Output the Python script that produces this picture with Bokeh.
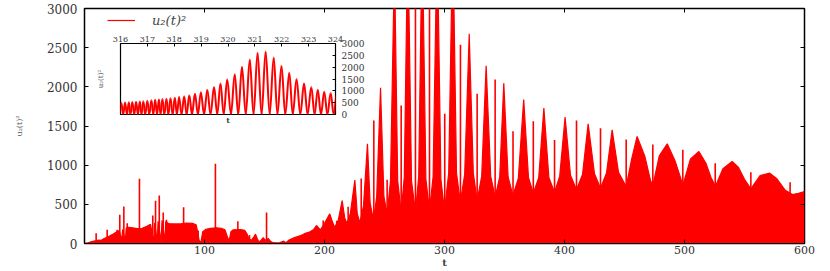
from bokeh.plotting import figure
from bokeh.models import LinearAxis, FixedTicker, Range1d, Legend, LegendItem
from bokeh.embed import file_html
from bokeh.resources import INLINE

# ---------------- main series: upper envelope of the dense signal u2(t)^2 ----------------
env_t = [0, 3, 6, 9, 12, 14, 16, 20, 24, 27, 29, 31, 31.8, 34, 34.8, 37, 40, 44, 48, 52, 55,
         57.8, 58.5, 60.6, 61.3, 63.8, 64.6, 67, 67.7, 70, 75, 80, 85, 90, 93, 94.3, 95.5, 97,
         98.5, 101, 105, 110, 114, 117, 119, 120.5, 122, 124, 130, 133.5, 135.5, 137, 139, 141,
         142.5, 144, 145.5, 147, 149, 150.5, 153, 155, 157, 162, 166, 168, 170, 175, 180, 184,
         188, 191, 193.3, 196.5, 199, 201.5, 204.4, 206.5, 208.5, 211.5, 214.7, 216.8, 218.7,
         221.5, 225.3, 227.3, 229.5, 232.5, 235.8, 238, 240.8, 243.5, 246.7, 249.5, 252.2, 255,
         258.3, 261, 263.9, 266.5, 269.4, 272.5, 275.8, 278.5, 281.4, 284.5, 287.5, 290.5, 293.9,
         297, 300, 303.5, 306.9, 310, 313.2, 316.8, 320.6, 324, 327.2, 331, 334.7, 338.5, 342.2,
         346, 349.4, 353, 357, 361.5, 366, 370, 374, 378.5, 382.8, 387, 391.7, 396, 400.5, 405,
         410, 415, 419.7, 425, 430, 435, 439.7, 445, 451.4, 456, 460.5, 467, 471.7, 473.6, 479,
         485.6, 492, 496.5, 498.6, 505, 512, 518, 522, 525.8, 532, 539.7, 545, 550, 555.3, 563,
         571, 577, 584, 590, 595, 600]
env_u = [0, 10, 25, 35, 45, 40, 60, 90, 120, 150, 165, 40, 180, 30, 200, 205, 200, 190, 195, 220, 245,
         20, 265, 20, 285, 20, 295, 30, 280, 255, 250, 250, 262, 258, 240, 150, 40, 15,
         150, 180, 195, 200, 195, 175, 90, 30, 150, 175, 178, 168, 120, 60, 40, 80,
         120, 60, 20, 40, 75, 40, 65, 30, 10, 5, 30, 10, 40, 75, 100, 130,
         150, 180, 230, 175, 230, 300, 379, 280, 205, 300, 549, 330, 255,
         380, 810, 380, 265, 480, 1272, 520, 300, 600, 1988, 600, 380, 800,
         3600, 800, 400, 850, 4000, 800, 410, 850, 4000, 820, 420, 850, 4000,
         820, 421, 900, 4000, 900, 527, 880, 2677, 900, 549, 860, 2268, 860, 591,
         850, 2047, 850, 613, 830, 1838, 840, 642, 840, 1728, 840, 655, 860, 1613, 870,
         685, 880, 1528, 890, 706, 900, 1451, 910, 727, 1080, 1366, 1110, 804, 740, 1120,
         1273, 1060, 850, 740, 1080, 1174, 1020, 846, 732, 955, 1047, 970, 820, 698, 868,
         898, 826, 680, 625, 640, 664]

# isolated narrow spikes
spike_t = [9.7, 18.9, 27.2, 29.4, 32.8, 35.6, 45.8, 56.9, 59.2, 62.3, 65.6, 68.3, 82.6, 94.7,
           109.1, 127.8, 137.5, 151.7, 198.9, 210.2, 219.7, 230.6, 241.1, 252.2, 263.9, 275.8,
           287.5, 300.2, 313.3, 327.2, 342.2, 357.1, 374.0, 391.7, 410.0, 430.0, 451.4, 473.6,
           498.6, 525.6, 555.3, 588.0]
spike_u = [130, 175, 175, 366, 472, 260, 826, 357, 545, 613, 395, 302, 464, 166,
           1017, 285, 110, 395, 294, 290, 470, 830, 1570, 813, 1762, 4000,
           4000, 1656, 2536, 1911, 2094, 1434, 1562, 1320, 1570, 1472, 1328, 1264,
           1196, 1025, 910, 783]

x_ticks = [100, 200, 300, 400, 500, 600]
y_ticks = [0, 500, 1000, 1500, 2000, 2500, 3000]

# ---------------- inset series: zoom on 316 <= t <= 324 ----------------
in_peak_t = [316.03, 316.17, 316.31, 316.44, 316.58, 316.72, 316.85, 317.00, 317.15, 317.29,
             317.43, 317.56, 317.71, 317.86, 318.02, 318.18, 318.37, 318.56, 318.77, 318.99,
             319.23, 319.48, 319.72, 319.97, 320.25, 320.52, 320.81, 321.10, 321.40, 321.70,
             321.99, 322.28, 322.55, 322.83, 323.10, 323.34, 323.58, 323.82, 324.05]
in_peak_u = [500, 510, 520, 530, 540, 550, 565, 580, 600, 620,
             638, 652, 667, 685, 710, 737, 770, 810, 880, 940,
             1050, 1160, 1310, 1476, 1702, 2014, 2326, 2610, 2666, 2411,
             2056, 1759, 1503, 1306, 1162, 1051, 966, 908, 860]
in_trough_t = [315.96, 316.10, 316.24, 316.37, 316.51, 316.65, 316.78, 316.92, 317.07, 317.22,
               317.36, 317.49, 317.63, 317.78, 317.94, 318.10, 318.27, 318.46, 318.66, 318.88,
               319.11, 319.35, 319.60, 319.84, 320.11, 320.38, 320.66, 320.95, 321.25, 321.55,
               321.84, 322.13, 322.41, 322.69, 322.96, 323.22, 323.46, 323.70, 323.93]
in_x_ticks = [316, 317, 318, 319, 320, 321, 322, 323, 324]

RED = "#ff0000"
SERIF = "DejaVu Serif"
LABEL = "u\u2082(t)\u00b2"

# ---------------- main figure ----------------
p = figure(width=822, height=271, x_range=Range1d(0, 600), y_range=Range1d(0, 3000),
           output_backend="svg", toolbar_location=None,
           min_border_left=84, min_border_right=18, min_border_top=8, min_border_bottom=28)
p.grid.visible = False
p.outline_line_color = "black"
p.outline_line_width = 1.5
p.background_fill_color = "white"
p.border_fill_color = "white"

p.varea(x=env_t, y1=0, y2=env_u, fill_color=RED)
env_line = p.line(env_t, env_u, line_color=RED, line_width=1.2)
p.segment(x0=spike_t, y0=0, x1=spike_t, y1=spike_u, line_color=RED, line_width=1.6)

for ax in (p.xaxis[0], p.yaxis[0]):
    ax.major_tick_in = 4
    ax.major_tick_out = 0
    ax.minor_tick_line_color = None
    ax.axis_line_color = "black"
    ax.major_label_text_font = SERIF
    ax.major_label_text_color = "#333333"
p.xaxis[0].major_label_text_font_size = "11px"
p.yaxis[0].major_label_text_font_size = "12px"
p.xaxis[0].ticker = FixedTicker(ticks=x_ticks)
p.yaxis[0].ticker = FixedTicker(ticks=y_ticks)
p.xaxis[0].major_label_standoff = 2
p.yaxis[0].major_label_standoff = 7
p.xaxis[0].axis_label = "t"
p.xaxis[0].axis_label_text_font = SERIF
p.xaxis[0].axis_label_text_font_style = "bold"
p.xaxis[0].axis_label_text_font_size = "10px"
p.xaxis[0].axis_label_standoff = 0
p.yaxis[0].axis_label = LABEL
p.yaxis[0].axis_label_text_font = SERIF
p.yaxis[0].axis_label_text_font_style = "normal"
p.yaxis[0].axis_label_text_font_size = "8px"
p.yaxis[0].axis_label_text_color = "#555555"
p.yaxis[0].axis_label_standoff = 20

top_ax = LinearAxis(ticker=FixedTicker(ticks=x_ticks), major_tick_in=4, major_tick_out=0,
                    minor_tick_line_color=None, axis_line_color=None,
                    major_label_overrides={t: "" for t in x_ticks},
                    major_label_text_font_size="1px", major_label_standoff=0)
right_ax = LinearAxis(ticker=FixedTicker(ticks=y_ticks), major_tick_in=4, major_tick_out=0,
                      minor_tick_line_color=None, axis_line_color=None,
                      major_label_overrides={t: "" for t in y_ticks},
                      major_label_text_font_size="1px", major_label_standoff=0)
p.add_layout(top_ax, "above")
p.add_layout(right_ax, "right")

legend = Legend(items=[LegendItem(label=LABEL, renderers=[env_line])], location=(23, 213),
                padding=0, margin=0, glyph_width=28, glyph_height=20, label_height=20,
                label_standoff=17, label_text_font=SERIF, label_text_font_style="italic",
                label_text_font_size="13px", background_fill_alpha=0, border_line_alpha=0)
p.add_layout(legend)

# ---------------- inset figure ----------------
q = figure(width=283, height=99, x_range=Range1d(316, 324), y_range=Range1d(0, 3000),
           output_backend="svg", toolbar_location=None,
           x_axis_location="above", y_axis_location="right",
           min_border_left=28, min_border_right=40, min_border_top=14, min_border_bottom=14)
q.grid.visible = False
q.outline_line_color = "black"
q.outline_line_width = 1.2
q.background_fill_color = "white"
q.border_fill_alpha = 0

pts_t = [in_trough_t[0]]
pts_u = [0]
for i in range(len(in_peak_t)):
    pts_t.append(in_peak_t[i]); pts_u.append(in_peak_u[i])
    if i + 1 < len(in_trough_t):
        pts_t.append(in_trough_t[i + 1]); pts_u.append(0)
k = 0.3642
x0, y0, x1, y1, cx0, cy0, cx1, cy1 = [], [], [], [], [], [], [], []
for i in range(len(pts_t) - 1):
    a, b = pts_t[i], pts_t[i + 1]
    d = b - a
    x0.append(a); y0.append(pts_u[i]); x1.append(b); y1.append(pts_u[i + 1])
    cx0.append(a + k * d); cy0.append(pts_u[i]); cx1.append(b - k * d); cy1.append(pts_u[i + 1])
q.bezier(x0=x0, y0=y0, x1=x1, y1=y1, cx0=cx0, cy0=cy0, cx1=cx1, cy1=cy1,
         line_color=RED, line_width=2)

qx = q.xaxis[0]
qx.ticker = FixedTicker(ticks=in_x_ticks)
qy = q.yaxis[0]
qy.ticker = FixedTicker(ticks=y_ticks)
for ax in (qx, qy):
    ax.major_tick_in = 3
    ax.major_tick_out = 0
    ax.minor_tick_line_color = None
    ax.axis_line_color = None
    ax.major_label_text_font = SERIF
    ax.major_label_text_color = "#333333"
qx.major_label_text_font_size = "8px"
qx.major_label_standoff = 2
qy.major_label_text_font_size = "9px"
qy.major_label_standoff = 6

qb = LinearAxis(axis_label="t", ticker=FixedTicker(ticks=[]), major_tick_line_color=None,
                minor_tick_line_color=None, axis_line_color=None, major_label_standoff=0,
                axis_label_text_font=SERIF, axis_label_text_font_size="8px",
                axis_label_text_font_style="bold", axis_label_standoff=0)
ql = LinearAxis(axis_label=LABEL, ticker=FixedTicker(ticks=[]), major_tick_line_color=None,
                minor_tick_line_color=None, axis_line_color=None, major_label_standoff=0,
                axis_label_text_font=SERIF, axis_label_text_font_size="7px",
                axis_label_text_font_style="normal", axis_label_text_color="#555555",
                axis_label_standoff=16)
q.add_layout(qb, "below")
q.add_layout(ql, "left")

q.margin = (-242, 0, 0, 92)

open("out.html", "w").write(file_html([p, q], INLINE))
